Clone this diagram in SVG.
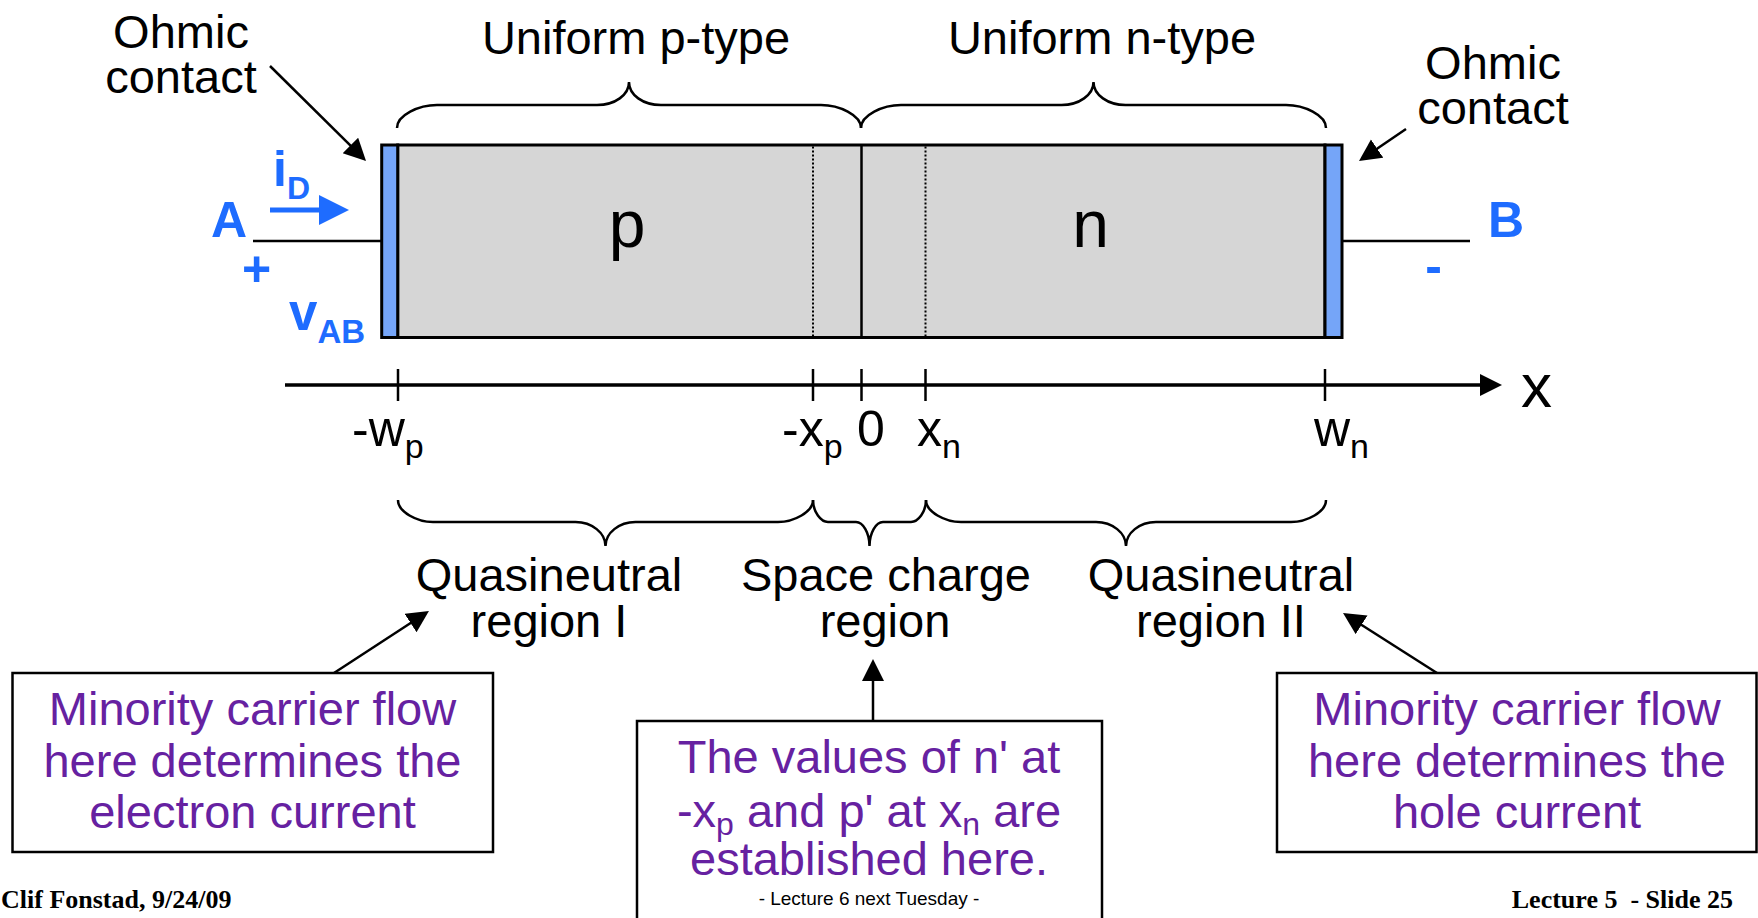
<svg xmlns="http://www.w3.org/2000/svg" width="1758" height="918" viewBox="0 0 1758 918">
<style>
.t{font-family:"Liberation Sans",Arial,sans-serif;fill:#000}
.big{font-size:47px;text-anchor:middle}
.lab{font-size:50px}
.pur{font-family:"Liberation Sans",Arial,sans-serif;font-size:47px;fill:#6621a1;text-anchor:middle}
.blue{font-family:"Liberation Sans",Arial,sans-serif;font-weight:bold;fill:#1e6cff}
.foot{font-family:"Liberation Serif","Times New Roman",serif;font-weight:bold;font-size:26px;fill:#000}
.ln{stroke:#000;stroke-width:2.5;fill:none}
.brace{stroke:#000;stroke-width:2.5;fill:none}
.box{fill:#fff;stroke:#000;stroke-width:2.5}
.arr{stroke:#000;stroke-width:2.5;fill:none;marker-end:url(#ah)}
</style>
<defs>
<marker id="ah" markerUnits="userSpaceOnUse" markerWidth="24" markerHeight="24" refX="18" refY="11" orient="auto">
<path d="M0,0 L22,11 L0,22 z" fill="#000"/>
</marker>
</defs>
<rect width="1758" height="918" fill="#fff"/>

<g id="semiconductor">
<rect x="397.7" y="145" width="927.3" height="192.5" fill="#d6d6d6" stroke="#000" stroke-width="3"/>
<line x1="861.5" y1="145" x2="861.5" y2="337.5" stroke="#000" stroke-width="2.5"/>
<line x1="813" y1="146.5" x2="813" y2="336" stroke="#000" stroke-width="2" stroke-dasharray="2,2"/>
<line x1="925.5" y1="146.5" x2="925.5" y2="336" stroke="#000" stroke-width="2" stroke-dasharray="2,2"/>
<text class="t" x="627" y="247" font-size="66" text-anchor="middle">p</text>
<text class="t" x="1090.5" y="247" font-size="66" text-anchor="middle">n</text>
</g>

<g id="contact-left">
<rect x="381.7" y="145" width="16" height="192.5" fill="#75a5f8" stroke="#000" stroke-width="3"/>
</g>
<g id="contact-right">
<rect x="1325" y="145" width="17" height="192.5" fill="#75a5f8" stroke="#000" stroke-width="3"/>
</g>

<g id="terminal-A">
<line x1="253" y1="241" x2="381.7" y2="241" class="ln"/>
<text class="blue" x="211" y="237" font-size="50">A</text>
<text class="blue" x="256.5" y="286" font-size="50" text-anchor="middle">+</text>
<text class="blue" x="289" y="330" font-size="51">v<tspan font-size="33" dy="13">AB</tspan></text>
<text class="blue" x="273" y="186" font-size="50">i<tspan font-size="32" dy="13">D</tspan></text>
<line x1="270" y1="210" x2="322" y2="210" stroke="#1e6cff" stroke-width="5"/>
<polygon points="319,195 349,210 319,225" fill="#1e6cff"/>
</g>

<g id="terminal-B">
<line x1="1342" y1="241" x2="1470" y2="241" class="ln"/>
<text class="blue" x="1488" y="237" font-size="50">B</text>
<text class="blue" x="1433.5" y="283" font-size="50" text-anchor="middle">-</text>
</g>

<g id="label-ohmic-left">
<text class="t big" x="181" y="48">Ohmic</text>
<text class="t big" x="181" y="93">contact</text>
</g>
<g id="label-ohmic-right">
<text class="t big" x="1493" y="79">Ohmic</text>
<text class="t big" x="1493" y="124">contact</text>
</g>

<g id="label-p-type">
<path class="brace" d="M397,128 C397,115 419,105 437,105 L597,105 C615,105 629,95 629,82 C629,95 643,105 661,105 L821,105 C839,105 861,115 861,128"/>
<text class="t big" x="636" y="54">Uniform p-type</text>
</g>
<g id="label-n-type">
<path class="brace" d="M861,128 C861,115 883,105 901,105 L1061.5,105 C1079,105 1093.5,95 1093.5,82 C1093.5,95 1108,105 1125.5,105 L1286,105 C1304,105 1326,115 1326,128"/>
<text class="t big" x="1102" y="54">Uniform n-type</text>
</g>

<g id="axis">
<line x1="398" y1="369" x2="398" y2="401" class="ln"/>
<line x1="813" y1="369" x2="813" y2="401" class="ln"/>
<line x1="861.5" y1="369" x2="861.5" y2="401" class="ln"/>
<line x1="925.5" y1="369" x2="925.5" y2="401" class="ln"/>
<line x1="1325" y1="369" x2="1325" y2="401" class="ln"/>
<text class="t" x="1521" y="407" font-size="62">x</text>
<text class="t lab" x="352" y="446">-w<tspan font-size="34" dy="12">p</tspan></text>
<text class="t lab" x="782" y="446">-x<tspan font-size="34" dy="12">p</tspan></text>
<text class="t lab" x="857" y="446">0</text>
<text class="t lab" x="917" y="446">x<tspan font-size="34" dy="12">n</tspan></text>
<text class="t lab" x="1314" y="446">w<tspan font-size="34" dy="12">n</tspan></text>
</g>

<g id="region-I">
<path class="brace" d="M398,500 C398,512 417,522 433,522 L575.5,522 C592,522 605.5,533 605.5,546 C605.5,533 619,522 635.5,522 L778,522 C794,522 813,512 813,500"/>
<text class="t big" x="549" y="591">Quasineutral</text>
<text class="t big" x="549" y="637">region I</text>
</g>
<g id="region-scr">
<path class="brace" d="M813,500 C813,512 821,522 828,522 L856,522 C863,522 869.5,533 869.5,546 C869.5,533 876,522 883,522 L911,522 C918,522 926,512 926,500"/>
<text class="t big" x="886" y="591">Space charge</text>
<text class="t big" x="885" y="637">region</text>
</g>
<g id="region-II">
<path class="brace" d="M926,500 C926,512 945,522 961,522 L1096,522 C1112.5,522 1126,533 1126,546 C1126,533 1139.5,522 1156,522 L1291,522 C1307,522 1326,512 1326,500"/>
<text class="t big" x="1221" y="591">Quasineutral</text>
<text class="t big" x="1221" y="637">region II</text>
</g>

<g id="note-electron">
<rect class="box" x="12.5" y="673" width="480.5" height="179"/>
<text class="pur" x="252.5" y="725">Minority carrier flow</text>
<text class="pur" x="252.5" y="777">here determines the</text>
<text class="pur" x="252.5" y="828">electron current</text>
</g>
<g id="note-scr">
<rect class="box" x="637" y="721" width="465" height="220"/>
<text class="pur" x="869" y="773">The values of n' at</text>
<text class="pur" x="869" y="827">-x<tspan font-size="32" dy="8">p</tspan><tspan dy="-8"> and p' at x</tspan><tspan font-size="32" dy="8">n</tspan><tspan dy="-8"> are</tspan></text>
<text class="pur" x="869" y="875">established here.</text>
<text class="t" x="869" y="905" font-size="19" text-anchor="middle">- Lecture 6 next Tuesday -</text>
</g>
<g id="note-hole">
<rect class="box" x="1277" y="673" width="479.5" height="179"/>
<text class="pur" x="1517" y="725">Minority carrier flow</text>
<text class="pur" x="1517" y="777">here determines the</text>
<text class="pur" x="1517" y="828">hole current</text>
</g>

<g id="footer">
<text class="foot" x="1" y="908">Clif Fonstad, 9/24/09</text>
<text class="foot" x="1733" y="908" text-anchor="end" style="white-space:pre">Lecture 5  - Slide 25</text>
</g>

<g id="connectors">
<line class="arr" x1="270" y1="66" x2="363.2" y2="158.2"/>
<line class="arr" x1="1406" y1="129" x2="1362.3" y2="158.8"/>
<line class="arr" x1="285" y1="385" x2="1498" y2="385" style="stroke-width:3.5"/>
<line class="arr" x1="334" y1="673" x2="425.6" y2="613.2"/>
<line class="arr" x1="873" y1="721" x2="873" y2="663"/>
<line class="arr" x1="1437" y1="673" x2="1346.4" y2="615.2"/>
</g>
</svg>
